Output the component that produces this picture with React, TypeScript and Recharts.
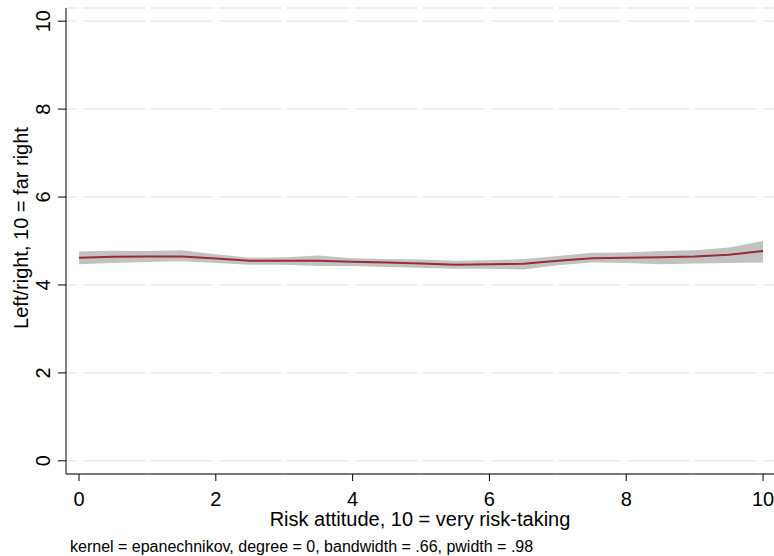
import { ComposedChart, Area, Line, XAxis, YAxis, CartesianGrid } from 'recharts'

// risk attitude grid points
const riskX = [0, 0.5, 1, 1.5, 2, 2.5, 3, 3.5, 4, 4.5, 5, 5.5, 6, 6.5, 7, 7.5, 8, 8.5, 9, 9.5, 10]
// smoothed left/right placement
const fitted = [4.62, 4.64, 4.65, 4.65, 4.6, 4.55, 4.55, 4.55, 4.53, 4.51, 4.49, 4.46, 4.47, 4.48, 4.55, 4.61, 4.62, 4.63, 4.65, 4.69, 4.77]
const ciUpper = [4.76, 4.78, 4.77, 4.79, 4.7, 4.62, 4.63, 4.67, 4.61, 4.59, 4.58, 4.55, 4.56, 4.59, 4.66, 4.73, 4.74, 4.77, 4.79, 4.85, 5.0]
const ciLower = [4.47, 4.5, 4.52, 4.54, 4.5, 4.46, 4.46, 4.43, 4.43, 4.41, 4.39, 4.37, 4.37, 4.35, 4.45, 4.51, 4.5, 4.47, 4.49, 4.5, 4.51]

const xTicks = [0, 2, 4, 6, 8, 10]
const yTicks = [0, 2, 4, 6, 8, 10]

const xTitle = 'Risk attitude, 10 = very risk-taking'
const yTitle = 'Left/right, 10 = far right'
const note = 'kernel = epanechnikov, degree = 0, bandwidth = .66, pwidth = .98'

const data = riskX.map((x, i) => ({ x, fit: fitted[i], band: [ciLower[i], ciUpper[i]] }))

const font = '"Liberation Sans", Arial, sans-serif'

const XTick = (props: any) => {
  const { x, payload } = props
  return (
    <text x={x} y={506} textAnchor="middle" fontSize={20} fontFamily={font} fill="#000">
      {payload.value}
    </text>
  )
}

const YTick = (props: any) => {
  const { y, payload } = props
  return (
    <text x={50} y={y} transform={`rotate(-90 50 ${y})`} textAnchor="middle" fontSize={20} fontFamily={font} fill="#000">
      {payload.value}
    </text>
  )
}

export default function App() {
  return (
    <div style={{ position: 'absolute', left: 0, top: 0, width: 774, height: 556, background: '#fff' }}>
      <ComposedChart width={774} height={556} data={data} margin={{ top: 8, right: 0, left: 0, bottom: 52 }}>
        <CartesianGrid vertical={false} stroke="#e6eef1" strokeWidth={1.5} strokeDasharray="63 5" strokeDashoffset={52} />
        <XAxis
          type="number"
          dataKey="x"
          domain={[-0.19, 10.16]}
          ticks={xTicks}
          allowDataOverflow
          height={30}
          tickSize={7}
          tick={<XTick />}
          stroke="#000"
          tickLine={{ stroke: '#000' }}
        />
        <YAxis
          type="number"
          domain={[-0.3, 10.3]}
          ticks={yTicks}
          allowDataOverflow
          width={66}
          tickSize={8}
          tick={<YTick />}
          stroke="#000"
          tickLine={{ stroke: '#000' }}
        />
        <Area dataKey="band" stroke="none" fill="#c2c2c2" fillOpacity={1} isAnimationActive={false} />
        <Line dataKey="fit" stroke="#9e2a37" strokeWidth={2} dot={false} isAnimationActive={false} />
      </ComposedChart>
      <svg width={774} height={556} style={{ position: 'absolute', left: 0, top: 0, pointerEvents: 'none' }}>
        <text x={420} y={526} textAnchor="middle" fontSize={20} fontFamily={font} fill="#000">
          {xTitle}
        </text>
        <text x={28} y={228} transform="rotate(-90 28 228)" textAnchor="middle" fontSize={20} fontFamily={font} fill="#000">
          {yTitle}
        </text>
        <text x={70} y={552} fontSize={16} fontFamily={font} fill="#000">
          {note}
        </text>
      </svg>
    </div>
  )
}
